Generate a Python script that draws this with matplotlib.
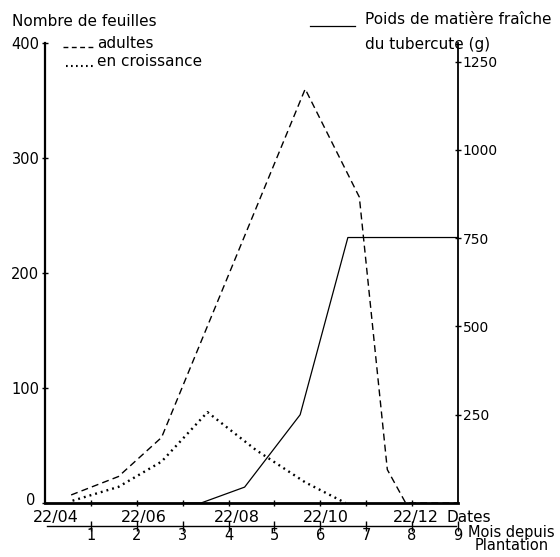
import matplotlib
matplotlib.use('Agg')
import matplotlib.pyplot as plt
from matplotlib.lines import Line2D
from matplotlib.transforms import ScaledTranslation

# ---- data ----
months_adult = [0.57, 1.6, 2.54, 5.67, 6.85, 7.46, 7.86, 9.0]
leaves_adult = [7, 23, 57, 360, 266, 29, 0, 0]
months_growing = [0.6, 1.6, 2.54, 3.54, 4.6, 5.67, 6.55]
leaves_growing = [2, 14, 36, 79, 46, 18, 0]
months_tuber = [3.0, 3.4, 4.35, 5.56, 6.6, 9.0]
tuber_weight = [0, 0, 45, 250, 752, 752]
left_ticks = [0, 100, 200, 300, 400]
right_ticks = [250, 500, 750, 1000, 1250]
date_labels = ['22/04', '22/06', '22/08', '22/10', '22/12']
date_months = [0, 2, 4, 6, 8]
month_ticks = [1, 2, 3, 4, 5, 6, 7, 8, 9]

# label nudges (layout only, in months)
date_nudge = [0.24, 0.16, 0.18, 0.12, 0.08]

W, H = 560, 557
plt.rcParams['font.family'] = ['DejaVu Sans']
fig = plt.figure(figsize=(W / 100, H / 100), dpi=100)


def fx(x):
    return x / W


def fy(y):
    return 1 - y / H


L, R, T, B = 45, 458, 43, 503
ax = fig.add_axes([fx(L), fy(B), (R - L) / W, (B - T) / H])
ax.set_xlim(0, 9)
ax.set_ylim(0, 400)
for s in ['top', 'right']:
    ax.spines[s].set_visible(False)
ax.spines['left'].set_linewidth(1.6)
ax.spines['bottom'].set_linewidth(2.0)
ax.set_yticks(left_ticks)
ax.set_yticklabels([str(v) for v in left_ticks], fontsize=10.5)
ax.tick_params(axis='y', direction='inout', length=4, width=1, pad=2)
ax.set_xticks(month_ticks[:-1])
ax.set_xticklabels([])
ax.tick_params(axis='x', direction='inout', length=5, width=1)
# lift the "0" label slightly, as in the original
zero_lab = ax.get_yticklabels()[0]
zero_lab.set_transform(zero_lab.get_transform() +
                       ScaledTranslation(-4 / 100, 4 / 100, fig.dpi_scale_trans))

ax.plot(months_adult, leaves_adult, color='black', lw=1.0,
        ls=(0, (5, 3)), clip_on=False)
ax.plot(months_growing, leaves_growing, color='black', lw=1.7,
        ls=(0, (0.8, 1.7)), clip_on=False)

ax2 = ax.twinx()
ax2.set_ylim(0, 1303)
for s in ['top', 'left', 'bottom']:
    ax2.spines[s].set_visible(False)
ax2.spines['right'].set_linewidth(1.3)
ax2.set_yticks(right_ticks)
ax2.set_yticklabels([str(v) for v in right_ticks], fontsize=10)
ax2.tick_params(axis='y', direction='inout', length=5, width=1, pad=1)
ax2.plot(months_tuber, tuber_weight, color='black', lw=0.9, clip_on=False)

# date labels under main axis
for m, lab, dn in zip(date_months, date_labels, date_nudge):
    ax.text(m + dn, -0.032, lab, transform=ax.get_xaxis_transform(),
            ha='center', va='center', fontsize=11.5)
fig.text(fx(447), fy(517), 'Dates', ha='left', va='center', fontsize=11)

# second (months) axis
axm = fig.add_axes([fx(L), fy(526), (R - L) / W, 0.0001])
axm.set_xlim(0, 9)
axm.set_ylim(0, 1)
for s in ['top', 'left', 'right']:
    axm.spines[s].set_visible(False)
axm.spines['bottom'].set_linewidth(1.0)
axm.spines['bottom'].set_bounds(0.05, 8.95)
axm.set_yticks([])
axm.set_xticks(month_ticks)
axm.set_xticklabels([str(v) for v in month_ticks], fontsize=10.5)
axm.tick_params(axis='x', direction='inout', length=7, width=1, pad=-2)
fig.text(fx(468), fy(532), 'Mois depuis', ha='left', va='center', fontsize=10.5)
fig.text(fx(475), fy(546), 'Plantation', ha='left', va='center', fontsize=10.5)

# titles and legend
fig.text(fx(12), fy(21), 'Nombre de feuilles', ha='left', va='center', fontsize=11)
fig.add_artist(Line2D([fx(63), fx(95)], [fy(47), fy(47)], color='black', lw=1.0,
                      ls=(0, (3.5, 2.5))))
fig.text(fx(97), fy(43), 'adultes', ha='left', va='center', fontsize=11)
fig.add_artist(Line2D([fx(66), fx(95)], [fy(66), fy(66)], color='black', lw=1.5,
                      ls=(0, (0.8, 1.6))))
fig.text(fx(97), fy(62), 'en croissance', ha='left', va='center', fontsize=11)
fig.add_artist(Line2D([fx(310), fx(355)], [fy(26), fy(26)], color='black', lw=0.9))
fig.text(fx(365), fy(19), 'Poids de matière fraîche', ha='left', va='center', fontsize=11)
fig.text(fx(365), fy(45), 'du tubercute (g)', ha='left', va='center', fontsize=11)

fig.savefig('out.png', dpi=100)
